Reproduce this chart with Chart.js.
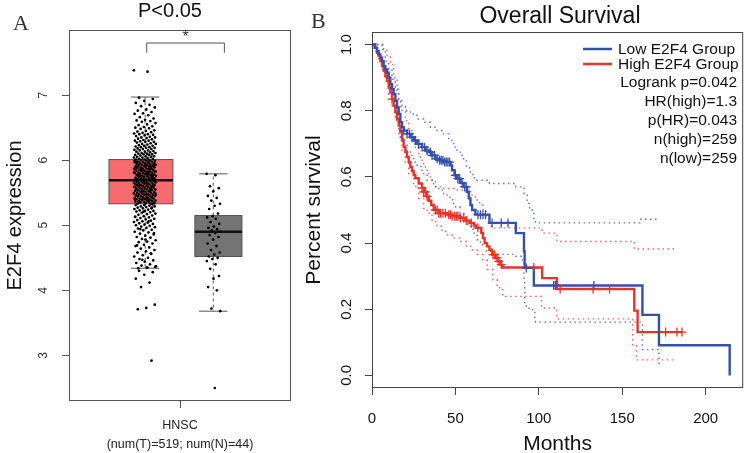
<!DOCTYPE html>
<html>
<head>
<meta charset="utf-8">
<script src="https://cdn.jsdelivr.net/npm/chart.js@4.4.1/dist/chart.umd.min.js"></script>
<style>
  html, body { margin: 0; padding: 0; background: #fff; }
  #wrap { position: relative; width: 749px; height: 453px; }
  canvas { position: absolute; top: 0; }
  #boxChart { left: 0; }
  #kmChart { left: 300px; }
</style>
</head>
<body>
<div id="wrap">
  <canvas id="boxChart" width="300" height="453"></canvas>
  <canvas id="kmChart" width="449" height="453"></canvas>
</div>
<script>
// ---- panel A data (E2F4 expression, HNSC) ----
const boxCategory = ["HNSC", "(num(T)=519; num(N)=44)"];
const boxGroups = ["Tumor", "Normal"];
const boxQ1 = [5.33, 4.52];
const boxMedian = [5.69, 4.90];
const boxQ3 = [6.01, 5.15];
const whiskerLow = [4.34, 3.68];
const whiskerHigh = [6.97, 5.79];
const exprTicks = [3, 4, 5, 6, 7];

const tumorExpr = [
  7.38, 7.36,
  6.96, 6.94, 6.91, 6.88, 6.85, 6.83, 6.81, 6.78, 6.76, 6.74, 6.72, 6.71, 6.69, 6.66, 6.64, 6.62, 6.61, 6.60,
  6.59, 6.57, 6.55, 6.54, 6.52, 6.51, 6.50, 6.49, 6.48, 6.46, 6.45, 6.44, 6.43, 6.42, 6.41, 6.40, 6.40,
  6.39, 6.38, 6.37, 6.36, 6.35, 6.35, 6.34, 6.33, 6.32, 6.31, 6.30, 6.30,
  6.29, 6.28, 6.28, 6.27, 6.26, 6.25, 6.25, 6.24, 6.23, 6.22, 6.22, 6.21, 6.20, 6.20,
  6.19, 6.19, 6.18, 6.17, 6.17, 6.16, 6.15, 6.15, 6.14, 6.13, 6.13, 6.12, 6.11, 6.11, 6.10, 6.10,
  6.09, 6.09, 6.08, 6.08, 6.07, 6.06, 6.06, 6.05, 6.05, 6.04, 6.04, 6.03, 6.02, 6.02, 6.01, 6.01, 6.00, 6.00,
  5.99, 5.99, 5.98, 5.98, 5.97, 5.97, 5.96, 5.96, 5.95, 5.95, 5.94, 5.94, 5.93, 5.93, 5.92, 5.92, 5.91, 5.91, 5.90, 5.90,
  5.89, 5.89, 5.88, 5.88, 5.87, 5.87, 5.86, 5.86, 5.85, 5.85, 5.84, 5.84, 5.83, 5.83, 5.82, 5.82, 5.81, 5.81, 5.80, 5.80,
  5.79, 5.79, 5.78, 5.78, 5.77, 5.77, 5.76, 5.76, 5.75, 5.75, 5.74, 5.74, 5.73, 5.73, 5.72, 5.72, 5.71, 5.71, 5.70, 5.70,
  5.985, 5.965, 5.945, 5.925, 5.905, 5.885, 5.865, 5.845, 5.825, 5.805, 5.785, 5.765, 5.745, 5.725, 5.705, 5.695,
  5.96, 5.93, 5.90, 5.87, 5.84, 5.81, 5.78, 5.75, 5.72, 5.69, 5.97, 5.91, 5.86, 5.83, 5.79, 5.76, 5.74, 5.71, 5.88, 5.82, 5.77,
  5.68, 5.68, 5.67, 5.67, 5.66, 5.66, 5.65, 5.65, 5.64, 5.64, 5.63, 5.63, 5.62, 5.62, 5.61, 5.61, 5.60, 5.60, 5.59, 5.59,
  5.58, 5.58, 5.57, 5.57, 5.56, 5.56, 5.55, 5.55, 5.54, 5.54, 5.53, 5.53, 5.52, 5.52, 5.51, 5.51, 5.50, 5.50, 5.49, 5.49,
  5.48, 5.48, 5.47, 5.47, 5.46, 5.46, 5.45, 5.45, 5.44, 5.44, 5.43, 5.43, 5.42, 5.42, 5.41, 5.41, 5.40, 5.40, 5.39, 5.39,
  5.38, 5.38, 5.37, 5.37, 5.36, 5.36, 5.35, 5.35, 5.34, 5.34, 5.33, 5.33,
  5.675, 5.655, 5.635, 5.615, 5.595, 5.575, 5.555, 5.535, 5.515, 5.495, 5.475, 5.455, 5.435, 5.415, 5.395, 5.375, 5.355, 5.345,
  5.66, 5.62, 5.57, 5.52, 5.47, 5.41, 5.36,
  5.32, 5.31, 5.31, 5.30, 5.29, 5.29, 5.28, 5.27, 5.26, 5.26, 5.25, 5.24, 5.23, 5.22, 5.22, 5.21, 5.20, 5.19, 5.18, 5.17,
  5.16, 5.15, 5.14, 5.13, 5.12, 5.11, 5.10, 5.09, 5.08, 5.07, 5.06, 5.05, 5.04, 5.03, 5.02, 5.01, 5.00, 4.99, 4.98, 4.97,
  4.96, 4.95, 4.93, 4.92, 4.90, 4.89, 4.87, 4.86, 4.84, 4.82, 4.81, 4.79, 4.77, 4.75, 4.74, 4.72, 4.70, 4.68, 4.66, 4.64,
  4.62, 4.60, 4.58, 4.56, 4.54, 4.52, 4.50, 4.48, 4.46, 4.44, 4.42, 4.40, 4.38, 4.36, 4.35, 4.34,
  5.27, 5.21, 5.13, 5.06, 4.94, 4.88, 4.78, 4.69, 4.57, 4.47, 4.37, 4.35,
  4.30, 4.28, 4.24, 4.18, 4.12, 4.05, 3.78, 3.73, 3.71, 2.92
];

const normalExpr = [
  5.79, 5.77, 5.60, 5.57, 5.52, 5.45, 5.42, 5.38, 5.33, 5.30,
  5.25, 5.18, 5.14, 5.12, 5.10, 5.05, 5.02, 4.98, 4.96, 4.94,
  4.92, 4.90, 4.88, 4.85, 4.82, 4.78, 4.72, 4.68, 4.62, 4.58,
  4.55, 4.52, 4.50, 4.48, 4.45, 4.40, 4.33, 4.22, 4.18, 4.05,
  4.00, 3.72, 3.68, 2.50
];

// ---- panel B data (overall survival, months) ----
const lowTimes = [0, 2, 3, 4, 5, 6, 7, 8, 9, 10, 11, 12, 13, 14, 15, 16, 17, 18, 19, 21, 23, 25, 27, 30, 32, 34, 36, 38, 40, 43, 47, 48, 49.5, 51, 53, 55, 57, 58, 59, 60, 62, 70.4, 86.2, 91.1, 91.5, 97, 162.1, 172, 214.4];
const lowSurv = [1.0, 0.99, 0.98, 0.97, 0.96, 0.95, 0.935, 0.925, 0.915, 0.9, 0.88, 0.865, 0.85, 0.83, 0.81, 0.79, 0.765, 0.75, 0.74, 0.73, 0.72, 0.71, 0.7, 0.69, 0.68, 0.675, 0.665, 0.655, 0.65, 0.645, 0.635, 0.62, 0.605, 0.595, 0.582, 0.57, 0.555, 0.535, 0.515, 0.5, 0.486, 0.461, 0.43, 0.375, 0.325, 0.272, 0.183, 0.091, 0.0];

const highTimes = [0, 1.5, 3, 4, 5, 6, 7, 8, 9, 10, 11, 12, 13, 14, 15, 16, 17, 18, 19, 20, 21, 22, 23, 24, 25, 26, 28, 30, 31, 33, 34, 35.5, 37, 40, 45, 48, 52.7, 56, 58.6, 61, 62.5, 65.5, 66.5, 67.5, 69, 70.4, 72, 74, 75.5, 77, 78.3, 102, 110.8, 157.2, 159.2, 185.8];
const highSurv = [1.0, 0.99, 0.975, 0.965, 0.95, 0.935, 0.92, 0.905, 0.89, 0.87, 0.855, 0.835, 0.815, 0.795, 0.775, 0.755, 0.735, 0.71, 0.69, 0.675, 0.66, 0.645, 0.63, 0.618, 0.606, 0.596, 0.58, 0.567, 0.555, 0.541, 0.528, 0.515, 0.5, 0.49, 0.486, 0.481, 0.476, 0.468, 0.461, 0.453, 0.446, 0.431, 0.415, 0.4, 0.39, 0.38, 0.365, 0.355, 0.345, 0.335, 0.326, 0.294, 0.261, 0.196, 0.131, 0.131];

const lowCensor = [19, 21, 22.5, 24, 26, 28, 30, 31.5, 33, 35, 36, 37.5, 39, 40.5, 41.5, 42.5, 43.5, 44.5, 45.5, 46.5, 50, 51.5, 52.5, 54, 55.5, 56.5, 63.5, 65, 66.5, 68, 72, 77.5, 81.5, 92.5, 108.9, 109.9, 133];
const highCensor = [12, 30, 31, 32, 33, 38, 39, 40, 41, 42.5, 44, 46, 47, 48, 49.5, 50.5, 51.5, 53, 55, 56.5, 59.5, 63.5, 72.5, 73.5, 75, 76, 77.5, 97, 112.8, 132.5, 142.4, 176, 182.8, 185.8];

const lowUpperT = [0, 4, 6, 8, 10, 12, 14, 16, 17.2, 20, 23, 27, 31, 35, 39, 42.8, 46, 49, 51, 54, 56.6, 58.5, 60.5, 62, 70.4, 86.2, 91.1, 93, 94.5, 97, 98, 160.5, 172];
const lowUpperS = [1.0, 1.0, 0.985, 0.95, 0.925, 0.895, 0.865, 0.835, 0.813, 0.8, 0.79, 0.775, 0.765, 0.75, 0.74, 0.73, 0.71, 0.69, 0.675, 0.655, 0.632, 0.615, 0.597, 0.59, 0.58, 0.57, 0.55, 0.52, 0.5, 0.47, 0.461, 0.472, 0.474];
const lowLowerT = [0, 2, 3, 5, 7, 9, 11, 13, 15, 16.5, 17.2, 19, 21, 23, 25, 27, 30, 33, 36.9, 40, 43, 46.8, 49, 52.7, 55, 57.5, 60.6, 63, 65, 68.6, 72.4, 86.2, 90.1, 91.1, 91.5, 94.1, 97.6, 98, 162.1, 172];
const lowLowerS = [1.0, 0.985, 0.97, 0.95, 0.92, 0.895, 0.865, 0.83, 0.79, 0.76, 0.72, 0.7, 0.68, 0.665, 0.645, 0.632, 0.61, 0.59, 0.571, 0.56, 0.545, 0.531, 0.51, 0.49, 0.47, 0.45, 0.43, 0.41, 0.395, 0.375, 0.366, 0.36, 0.34, 0.29, 0.21, 0.199, 0.163, 0.161, 0.078, 0.032];
const highUpperT = [0, 5, 7, 9, 11, 13, 15, 16, 18, 20, 22, 24, 26, 28, 30, 32, 34, 36, 38, 42, 50, 56, 60, 62, 64.5, 66.5, 68.5, 70.4, 72, 102, 110.8, 157.2, 181];
const highUpperS = [1.0, 1.0, 0.985, 0.965, 0.94, 0.9, 0.86, 0.83, 0.8, 0.77, 0.74, 0.71, 0.685, 0.66, 0.64, 0.62, 0.6, 0.585, 0.57, 0.565, 0.56, 0.555, 0.545, 0.53, 0.515, 0.495, 0.48, 0.451, 0.446, 0.43, 0.405, 0.382, 0.382];
const highLowerT = [0, 2, 4, 6, 8, 10, 12, 14, 16, 18, 19.9, 22, 25, 28, 31, 33, 36, 38.9, 42, 44.8, 48, 52.7, 56.6, 60, 63, 66.4, 69, 72.4, 75, 78.3, 80, 101.6, 110.8, 156.2, 158.5, 181];
const highLowerS = [1.0, 0.98, 0.955, 0.925, 0.89, 0.85, 0.81, 0.77, 0.72, 0.68, 0.642, 0.61, 0.571, 0.535, 0.505, 0.491, 0.465, 0.451, 0.435, 0.425, 0.415, 0.405, 0.39, 0.38, 0.365, 0.35, 0.32, 0.289, 0.265, 0.244, 0.239, 0.204, 0.171, 0.09, 0.047, 0.047];

const monthTicks = [0, 50, 100, 150, 200];
const survTicks = [0, 0.2, 0.4, 0.6, 0.8, 1.0];
const kmLegend = ["Low E2F4 Group", "High E2F4 Group"];
const kmStats = ["Logrank p=0.042", "HR(high)=1.3", "p(HR)=0.043", "n(high)=259", "n(low)=259"];

// ---- helpers ----
const SANS = "'Liberation Sans', Arial, sans-serif";
const SERIF = "'Liberation Serif', 'Times New Roman', serif";
const BLUE = "#3450AC";
const RED = "#E5352A";

// spread points sideways (presentation only, deterministic)
const jitter = (vals, center, spread) =>
  vals.map((v, i) => ({ x: center + (((i * 0.6180339887) % 1) - 0.5) * 2 * spread, y: v }));

const toXY = (ts, ss) => ts.map((t, i) => ({ x: t, y: ss[i] }));

const survAt = (ts, ss, t) => {
  let s = ss[0];
  for (let i = 0; i < ts.length; i++) if (ts[i] <= t) s = ss[i];
  return s;
};

// ---- panel A ----
const boxLayout = {
  center: [0.324, 0.673],
  half: [0.144, 0.106],
  whiskerX: [0.343, 0.65],
  capHalf: 0.064,
  fill: ["#F56B6E", "#747474"]
};

const boxPlugin = {
  id: "boxes",
  beforeDatasetsDraw(chart) {
    const { ctx, scales: { x, y } } = chart;
    ctx.save();
    for (let g = 0; g < boxGroups.length; g++) {
      const xl = x.getPixelForValue(boxLayout.center[g] - boxLayout.half[g]);
      const xr = x.getPixelForValue(boxLayout.center[g] + boxLayout.half[g]);
      const yt = y.getPixelForValue(boxQ3[g]);
      const yb = y.getPixelForValue(boxQ1[g]);
      const wx = x.getPixelForValue(boxLayout.whiskerX[g]);
      const cl = x.getPixelForValue(boxLayout.whiskerX[g] - boxLayout.capHalf);
      const cr = x.getPixelForValue(boxLayout.whiskerX[g] + boxLayout.capHalf);
      const yHi = y.getPixelForValue(whiskerHigh[g]);
      const yLo = y.getPixelForValue(whiskerLow[g]);

      // whiskers
      ctx.strokeStyle = "#555";
      ctx.lineWidth = 1;
      ctx.setLineDash([3, 3]);
      ctx.beginPath();
      ctx.moveTo(wx, yt); ctx.lineTo(wx, yHi);
      ctx.moveTo(wx, yb); ctx.lineTo(wx, yLo);
      ctx.stroke();
      ctx.setLineDash([]);
      ctx.beginPath();
      ctx.moveTo(cl, yHi); ctx.lineTo(cr, yHi);
      ctx.moveTo(cl, yLo); ctx.lineTo(cr, yLo);
      ctx.stroke();

      // box
      ctx.fillStyle = boxLayout.fill[g];
      ctx.fillRect(xl, yt, xr - xl, yb - yt);
      ctx.strokeStyle = "#555";
      ctx.strokeRect(xl, yt, xr - xl, yb - yt);

      // median
      const ym = y.getPixelForValue(boxMedian[g]);
      ctx.strokeStyle = "#111";
      ctx.lineWidth = 2.5;
      ctx.beginPath();
      ctx.moveTo(xl, ym); ctx.lineTo(xr, ym);
      ctx.stroke();
    }
    ctx.restore();
  },
  afterDraw(chart) {
    const { ctx, chartArea: a, scales: { x, y } } = chart;
    ctx.save();
    ctx.strokeStyle = "#555";
    ctx.lineWidth = 1;
    ctx.strokeRect(a.left + 0.5, a.top + 0.5, a.right - a.left - 1, a.bottom - a.top - 1);

    // significance bracket
    const bl = x.getPixelForValue(0.35), br = x.getPixelForValue(0.70);
    const bt = y.getPixelForValue(7.80), bb = y.getPixelForValue(7.65);
    ctx.beginPath();
    ctx.moveTo(bl, bb); ctx.lineTo(bl, bt); ctx.lineTo(br, bt); ctx.lineTo(br, bb);
    ctx.stroke();
    ctx.fillStyle = "#333";
    ctx.font = "16px " + SANS;
    ctx.textAlign = "center";
    ctx.textBaseline = "middle";
    ctx.fillText("*", (bl + br) / 2, y.getPixelForValue(7.88));

    ctx.fillStyle = "#111";
    ctx.font = "20px " + SANS;
    ctx.fillText("P<0.05", 170, 11);

    ctx.font = "22px " + SERIF;
    ctx.textAlign = "left";
    ctx.textBaseline = "alphabetic";
    ctx.fillStyle = "#333";
    ctx.fillText("A", 13, 30);
    ctx.restore();
  }
};

new Chart(document.getElementById("boxChart"), {
  type: "scatter",
  data: {
    datasets: [
      { label: boxGroups[0], data: jitter(tumorExpr, 0.342, 0.05), pointRadius: 1.35, backgroundColor: "#000", borderWidth: 0 },
      { label: boxGroups[1], data: jitter(normalExpr, 0.652, 0.032), pointRadius: 1.35, backgroundColor: "#000", borderWidth: 0 }
    ]
  },
  options: {
    responsive: false,
    animation: false,
    devicePixelRatio: 1,
    layout: { padding: { top: 30, right: 9, left: 0, bottom: 0 } },
    plugins: { legend: { display: false }, tooltip: { enabled: false } },
    scales: {
      x: {
        type: "linear", min: 0, max: 1,
        afterBuildTicks: (s) => { s.ticks = [{ value: 0.5 }]; },
        afterFit: (s) => { s.height = 52; },
        ticks: { callback: () => boxCategory, font: { family: SANS, size: 12.5, lineHeight: 1.5 }, color: "#222", padding: 8, maxRotation: 0, autoSkip: false },
        grid: { drawOnChartArea: false, tickLength: 7, color: "#555" },
        border: { display: false }
      },
      y: {
        min: 2.3, max: 8.0,
        afterBuildTicks: (s) => { s.ticks = exprTicks.map((v) => ({ value: v })); },
        afterFit: (s) => { s.width = 69; },
        ticks: { minRotation: 90, maxRotation: 90, crossAlign: "center", padding: 15, font: { family: SANS, size: 12 }, color: "#333", autoSkip: false },
        grid: { drawOnChartArea: false, tickLength: 7, color: "#555" },
        border: { display: false },
        title: { display: true, text: "E2F4 expression", font: { family: SANS, size: 20, lineHeight: 1.2 }, color: "#111", padding: { top: 3 } }
      }
    }
  },
  plugins: [boxPlugin]
});

// ---- panel B ----
const kmPlugin = {
  id: "kmDecor",
  afterDraw(chart) {
    const { ctx, chartArea: a } = chart;
    ctx.save();
    ctx.strokeStyle = "#444";
    ctx.lineWidth = 1;
    ctx.strokeRect(a.left + 0.5, a.top + 0.5, a.right - a.left - 1, a.bottom - a.top - 1);

    ctx.fillStyle = "#111";
    ctx.font = "23px " + SANS;
    ctx.textAlign = "center";
    ctx.textBaseline = "middle";
    ctx.fillText("Overall Survival", 260, 17);

    ctx.font = "22px " + SERIF;
    ctx.textAlign = "left";
    ctx.textBaseline = "alphabetic";
    ctx.fillStyle = "#333";
    ctx.fillText("B", 11, 28);

    // legend
    const ly = [49, 64];
    const lc = [BLUE, RED];
    ctx.lineWidth = 2.5;
    ctx.font = "15.5px " + SANS;
    ctx.fillStyle = "#111";
    ctx.textBaseline = "middle";
    for (let i = 0; i < kmLegend.length; i++) {
      ctx.strokeStyle = lc[i];
      ctx.beginPath();
      ctx.moveTo(283, ly[i]); ctx.lineTo(312, ly[i]);
      ctx.stroke();
      ctx.fillText(kmLegend[i], 318, ly[i] + 1);
    }
    ctx.textAlign = "right";
    kmStats.forEach((s, i) => ctx.fillText(s, 437, 83 + i * 19));
    ctx.restore();
  }
};

const ciLine = (ts, ss, color) => ({
  type: "line", data: toXY(ts, ss), stepped: true, borderColor: color, borderWidth: 1.4,
  borderDash: [1.5, 3.5], pointRadius: 0, fill: false, order: 3
});

new Chart(document.getElementById("kmChart"), {
  type: "line",
  data: {
    datasets: [
      { type: "scatter", data: lowCensor.map((t) => ({ x: t, y: survAt(lowTimes, lowSurv, t) })), pointStyle: "cross", pointRadius: 4.5, borderColor: BLUE, borderWidth: 1.3, order: 1 },
      { type: "scatter", data: highCensor.map((t) => ({ x: t, y: survAt(highTimes, highSurv, t) })), pointStyle: "cross", pointRadius: 4.5, borderColor: RED, borderWidth: 1.3, order: 1 },
      { label: kmLegend[0], data: toXY(lowTimes, lowSurv), stepped: true, borderColor: BLUE, borderWidth: 2.4, pointRadius: 0, fill: false, order: 2 },
      { label: kmLegend[1], data: toXY(highTimes, highSurv), stepped: true, borderColor: RED, borderWidth: 2.4, pointRadius: 0, fill: false, order: 2 },
      ciLine(lowUpperT, lowUpperS, "#5471D8"),
      ciLine(lowLowerT, lowLowerS, "#5471D8"),
      ciLine(highUpperT, highUpperS, "#EF5F50"),
      ciLine(highLowerT, highLowerS, "#EF5F50")
    ]
  },
  options: {
    responsive: false,
    animation: false,
    devicePixelRatio: 1,
    layout: { padding: { top: 32, right: 2, left: 0, bottom: 0 } },
    plugins: { legend: { display: false }, tooltip: { enabled: false } },
    scales: {
      x: {
        type: "linear", min: 0, max: 222.5,
        afterBuildTicks: (s) => { s.ticks = monthTicks.map((v) => ({ value: v })); },
        afterFit: (s) => { s.height = 65; },
        ticks: { font: { family: SANS, size: 15 }, color: "#111", padding: 15, maxRotation: 0, autoSkip: false },
        grid: { drawOnChartArea: false, tickLength: 7, color: "#444" },
        border: { display: false },
        title: { display: true, text: "Months", font: { family: SANS, size: 21, lineHeight: 0.85 }, color: "#111", padding: { top: 0, bottom: 0 } }
      },
      y: {
        min: -0.038, max: 1.038,
        afterBuildTicks: (s) => { s.ticks = survTicks.map((v) => ({ value: v })); },
        afterFit: (s) => { s.width = 72; },
        ticks: { minRotation: 90, maxRotation: 90, crossAlign: "center", padding: 8, callback: (v) => Number(v).toFixed(1), font: { family: SANS, size: 15 }, color: "#111", autoSkip: false },
        grid: { drawOnChartArea: false, tickLength: 7, color: "#444" },
        border: { display: false },
        title: { display: true, text: "Percent survival", font: { family: SANS, size: 21, lineHeight: 1.2 }, color: "#111", padding: { top: 2 } }
      }
    }
  },
  plugins: [kmPlugin]
});
</script>
</body>
</html>
